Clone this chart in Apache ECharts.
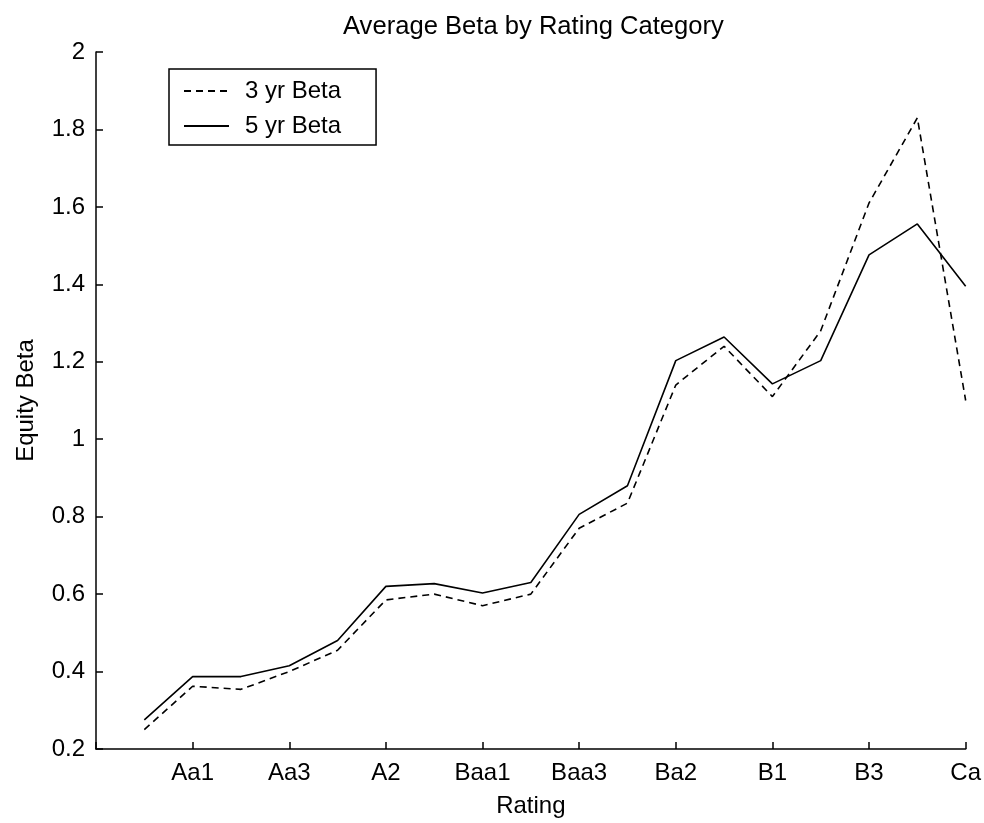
<!DOCTYPE html>
<html>
<head>
<meta charset="utf-8">
<script src="https://cdn.jsdelivr.net/npm/echarts@6/dist/echarts.min.js"></script>
<style>
  html, body { margin: 0; padding: 0; background: #fff; }
  #main { width: 984px; height: 823px; }
</style>
</head>
<body>
<div id="main"></div>
<script>
// rating scale, position 1..18 on the x axis
const ratings = ['Aaa', 'Aa1', 'Aa2', 'Aa3', 'A1', 'A2', 'A3', 'Baa1', 'Baa2', 'Baa3',
  'Ba1', 'Ba2', 'Ba3', 'B1', 'B2', 'B3', 'Caa', 'Ca'];

// average equity beta per rating
const beta3yr = [0.25, 0.362, 0.354, 0.40, 0.455, 0.585, 0.60, 0.57, 0.60, 0.77,
  0.835, 1.14, 1.24, 1.11, 1.28, 1.61, 1.83, 1.10];
const beta5yr = [0.275, 0.387, 0.387, 0.415, 0.48, 0.62, 0.627, 0.603, 0.63, 0.806,
  0.88, 1.203, 1.264, 1.143, 1.203, 1.476, 1.556, 1.395];

const yTicks = { min: 0.2, max: 2, interval: 0.2 };

const FONT = "'Liberation Sans', Arial, sans-serif";

const toPoints = (vals) => vals.map((v, i) => [i + 1, v]);

const chart = echarts.init(document.getElementById('main'));

chart.setOption({
  animation: false,
  backgroundColor: '#ffffff',
  textStyle: { fontFamily: FONT, color: '#000' },
  title: {
    text: 'Average Beta by Rating Category',
    left: 343,
    top: 14,
    padding: 0,
    textStyle: { fontFamily: FONT, fontSize: 25.6, fontWeight: 'normal', color: '#000' }
  },
  legend: {
    orient: 'vertical',
    left: 169,
    top: 69,
    padding: [10, 35, 7, 14],
    itemGap: 11,
    itemWidth: 45,
    itemHeight: 14,
    borderColor: '#000',
    borderWidth: 1.5,
    backgroundColor: '#fff',
    itemStyle: { opacity: 0 },
    textStyle: { fontFamily: FONT, fontSize: 24, color: '#000', padding: [0, 0, 0, 11] },
    data: ['3 yr Beta', '5 yr Beta']
  },
  grid: { left: 96, right: 9, top: 52, bottom: 71 },
  xAxis: {
    type: 'value',
    min: 0,
    max: 18,
    interval: 2,
    name: 'Rating',
    nameLocation: 'middle',
    nameGap: 45,
    nameTextStyle: { fontFamily: FONT, fontSize: 24, color: '#000' },
    axisLine: { show: true, onZero: false, lineStyle: { color: '#000', width: 1.5 } },
    axisTick: { show: true, inside: true, length: 7, lineStyle: { color: '#000', width: 1.5 } },
    axisLabel: {
      fontFamily: FONT, fontSize: 24, color: '#000', margin: 12,
      formatter: (v) => ratings[v - 1] || ''
    },
    splitLine: { show: false }
  },
  yAxis: {
    type: 'value',
    min: yTicks.min,
    max: yTicks.max,
    interval: yTicks.interval,
    name: 'Equity Beta',
    nameLocation: 'middle',
    nameGap: 58,
    nameTextStyle: { fontFamily: FONT, fontSize: 24, color: '#000' },
    axisLine: { show: true, onZero: false, lineStyle: { color: '#000', width: 1.5 } },
    axisTick: { show: true, inside: true, length: 7, lineStyle: { color: '#000', width: 1.5 } },
    axisLabel: { fontFamily: FONT, fontSize: 24, color: '#000', margin: 11 },
    splitLine: { show: false }
  },
  series: [
    {
      name: '3 yr Beta',
      type: 'line',
      data: toPoints(beta3yr),
      symbol: 'none',
      lineStyle: { color: '#000', width: 1.6, type: [7, 5] },
      itemStyle: { color: '#000' }
    },
    {
      name: '5 yr Beta',
      type: 'line',
      data: toPoints(beta5yr),
      symbol: 'none',
      lineStyle: { color: '#000', width: 1.6, type: 'solid' },
      itemStyle: { color: '#000' }
    }
  ]
});
</script>
</body>
</html>
